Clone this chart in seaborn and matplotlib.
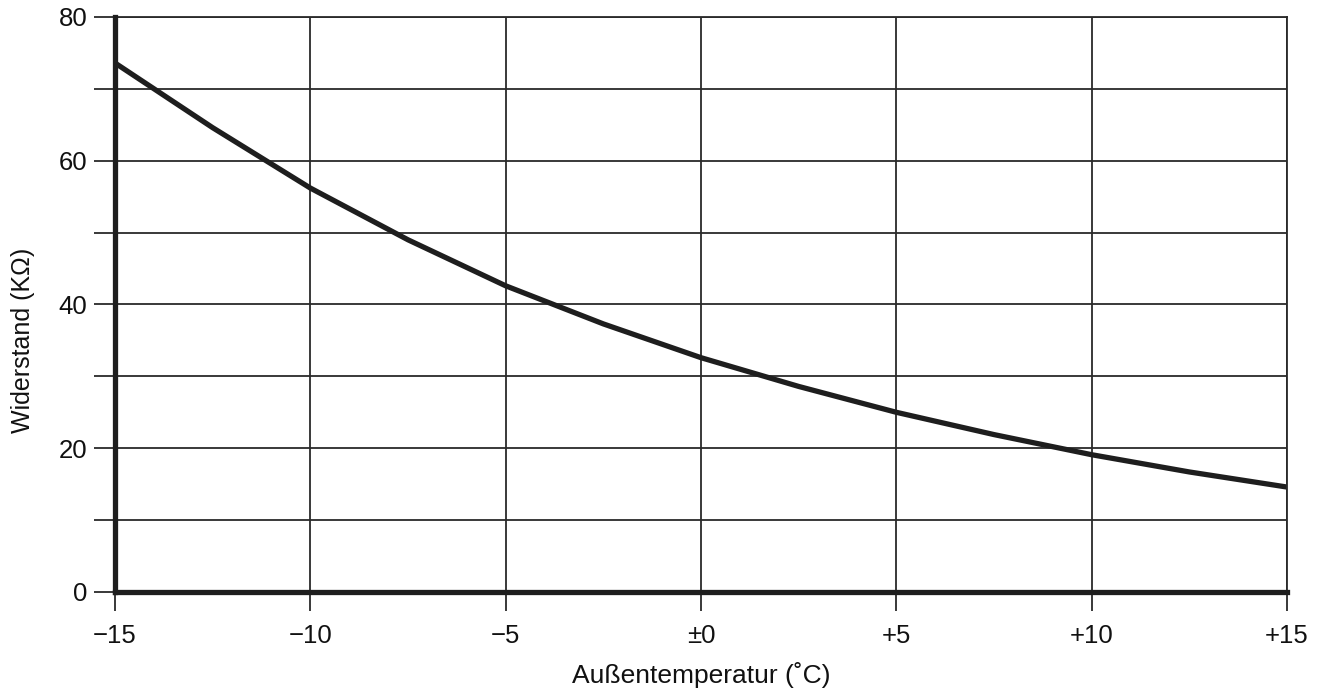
import matplotlib
matplotlib.use("Agg")
import matplotlib.pyplot as plt
import seaborn as sns
import pandas as pd

# Temperature-resistance characteristic of the outdoor sensor
temperature = [-15, -12.5, -10, -7.5, -5, -2.5, 0, 2.5, 5, 7.5, 10, 12.5, 15]
resistance = [73.6, 64.6, 56.2, 49.0, 42.6, 37.3, 32.6, 28.6, 25.0, 21.9, 19.1, 16.7, 14.6]

x_ticks = [-15, -10, -5, 0, 5, 10, 15]
x_tick_labels = ["\u221215", "\u221210", "\u22125", "\u00b10", "+5", "+10", "+15"]
y_ticks = [0, 10, 20, 30, 40, 50, 60, 70, 80]
y_tick_labels = ["0", "", "20", "", "40", "", "60", "", "80"]

sns.set_theme(style="white")
plt.rcParams["font.family"] = ["Liberation Sans", "DejaVu Sans"]

df = pd.DataFrame({"Temperatur": temperature, "Widerstand": resistance})

fig = plt.figure(figsize=(13.22, 6.91), dpi=100)
ax = fig.add_axes([0.087, 0.1433, 0.8865, 0.8321])

grid_color = "#2a2a2a"
ax.set_xlim(-15, 15)
ax.set_ylim(0, 80)
ax.set_xticks(x_ticks)
ax.set_xticklabels(x_tick_labels)
ax.set_yticks(y_ticks)
ax.set_yticklabels(y_tick_labels)
ax.grid(True, color=grid_color, linewidth=1.3)
ax.set_axisbelow(True)

sns.lineplot(data=df, x="Temperatur", y="Widerstand", ax=ax,
             color="#1e1e1e", linewidth=3.8, solid_capstyle="butt",
             solid_joinstyle="round")

for side in ["top", "right"]:
    ax.spines[side].set_color(grid_color)
    ax.spines[side].set_linewidth(1.3)
for side in ["left", "bottom"]:
    ax.spines[side].set_color("#1e1e1e")
    ax.spines[side].set_linewidth(3.8)
    ax.spines[side].set_zorder(5)

ax.tick_params(axis="both", which="major", bottom=True, left=True,
               direction="out", width=1.3,
               color=grid_color, labelsize=18.5, labelcolor="#111111")
ax.tick_params(axis="x", length=14, pad=9)
ax.tick_params(axis="y", length=15, pad=5)

ax.set_xlabel("Au\u00dfentemperatur (\u02daC)", fontsize=19, color="#111111", labelpad=10)
ax.set_ylabel("Widerstand (K\u03a9)", fontsize=18, color="#111111")
ax.yaxis.set_label_coords(-0.068, 0.438)

fig.savefig("out.png", dpi=100, facecolor="white")
